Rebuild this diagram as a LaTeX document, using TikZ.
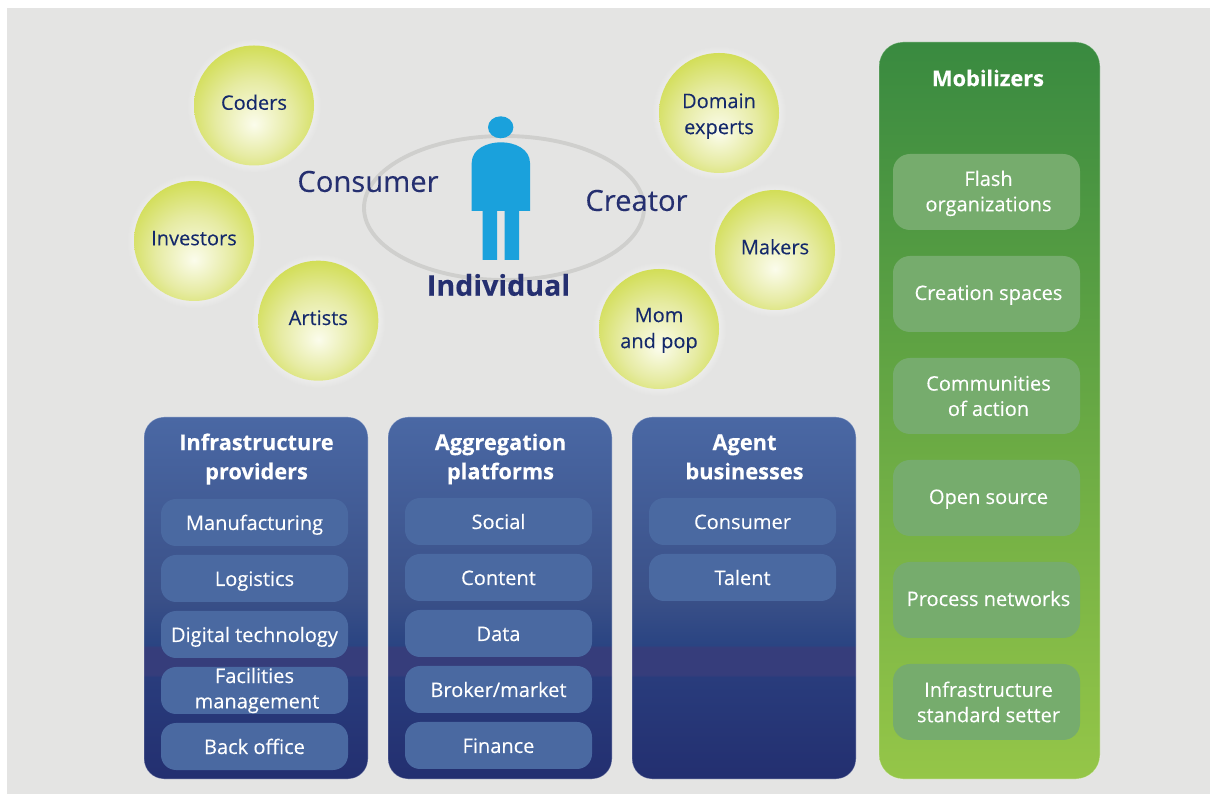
\documentclass[tikz,border=0pt]{standalone}
\usepackage{fontspec}
\setmainfont[FakeBold=0.15]{Open Sans}
\usepackage{xcolor}
\usetikzlibrary{positioning, shapes.geometric, shadows, fadings}
\definecolor{pagegray}{HTML}{E4E4E3}
\definecolor{ringgray}{HTML}{CFCFCD}
\definecolor{personblue}{HTML}{1AA1DC}
\definecolor{labelnavy}{HTML}{252F70}
\definecolor{bubblenavy}{HTML}{14296B}
\definecolor{pillblue}{HTML}{4A69A1}
\definecolor{pillgreen}{HTML}{76AC6D}
\definecolor{bluebottom}{HTML}{232F70}
\definecolor{bluelow}{HTML}{293C7C}
\definecolor{blueband}{HTML}{363D7B}
\definecolor{bluedeep}{HTML}{2A4482}
\definecolor{bluemid}{HTML}{3A5088}
\definecolor{bluetop}{HTML}{4A68A4}
\definecolor{greenbottom}{HTML}{95C648}
\definecolor{greentop}{HTML}{398A40}
\definecolor{bubblecore}{HTML}{FBFCEC}
\definecolor{bubblemid}{HTML}{E6EBA2}
\definecolor{bubbleedge}{HTML}{CEDB48}
\pgfdeclareverticalshading{panelblue}{100bp}{
    color(0bp)=(bluebottom); color(25bp)=(bluebottom);
    color(39.1bp)=(bluelow); color(39.4bp)=(blueband); color(43.2bp)=(blueband); color(43.5bp)=(bluedeep);
    color(50bp)=(bluemid); color(75bp)=(bluetop); color(100bp)=(bluetop)}
\pgfdeclareverticalshading{panelgreen}{100bp}{
    color(0bp)=(greenbottom); color(25bp)=(greenbottom);
    color(75bp)=(greentop); color(100bp)=(greentop)}
\pgfdeclareradialshading{bubbleshade}{\pgfpoint{0bp}{-8bp}}{
    color(0bp)=(bubblecore); color(16bp)=(bubblemid);
    color(31bp)=(bubbleedge); color(50bp)=(bubbleedge)}
\newcommand{\nudge}{\hspace*{0.04cm}}

\begin{document}
\begin{tikzpicture}[
    bubble/.style={
        circle,
        minimum size=1.2cm,
        inner sep=0pt,
        shading=bubbleshade,
        circular glow={fill=white, opacity=0.4, shadow scale=1.12},
        text=bubblenavy,
        align=center,
        font=\fontsize{5.7}{7.4}\selectfont
    },
    bubbleline/.style={text height=0.15cm, text depth=0.064cm},
    biglabel/.style={
        text=labelnavy,
        font=\fontsize{8.3}{10}\selectfont
    },
    panel/.style={
        rectangle,
        rounded corners=0.2cm,
        minimum width=2.24cm,
        minimum height=3.62cm,
        inner sep=0pt,
        draw=white,
        draw opacity=0.35,
        line width=0.25pt,
        shading=panelblue
    },
    paneltitle/.style={
        text=white,
        align=center,
        inner sep=0pt,
        font=\fontsize{6.2}{8.3}\selectfont\bfseries
    },
    pill/.style={
        rectangle,
        rounded corners=0.15cm,
        minimum width=1.87cm,
        minimum height=0.47cm,
        inner sep=0pt,
        outer sep=0pt,
        fill=pillblue,
        text=white,
        align=center,
        font=\fontsize{5.7}{7.2}\selectfont
    },
    pillline/.style={text height=0.15cm, text depth=0cm},
    greenpill/.style={
        pill,
        rounded corners=0.17cm,
        minimum height=0.76cm,
        fill=pillgreen
    },
    greenline/.style={text height=0.12cm, text depth=0cm}
]
\useasboundingbox (0,0) rectangle (12.10,7.94);

% Page
\fill[pagegray] (0.07,0) rectangle (12.10,7.86);

% Individual in the ring
\node[draw=ringgray, line width=1.1pt, ellipse, minimum width=2.8cm, minimum height=1.44cm, inner sep=0pt] (ring) at (5.04,5.86) {};
\fill[personblue] (5.007,6.667) ellipse (0.127cm and 0.11cm);
\fill[personblue] (4.717,5.83) -- (4.717,6.31) to[out=90, in=180] (5.01,6.517) to[out=0, in=90] (5.30,6.31) -- (5.30,5.83) -- (5.19,5.83) -- (5.19,5.34) -- (5.047,5.34) -- (5.047,5.83) -- (4.97,5.83) -- (4.97,5.34) -- (4.827,5.34) -- (4.827,5.83) -- cycle;
\node[biglabel] (consumer) at (3.68,6.125) {Consumer};
\node[biglabel] (creator) at (6.365,5.935) {Creator};
\node[biglabel, font=\fontsize{8.15}{10}\selectfont\bfseries] (individual) at (4.985,5.09) {Individual};

% Left bubbles
\node[bubble, bubbleline] (coders) at (2.54,6.885) {Coders};
\node[bubble, bubbleline] (investors) at (1.94,5.53) {Investors};
\node[bubble, bubbleline] (artists) at (3.183,4.733) {Artists};

% Right bubbles
\node[bubble] (domain) at (7.19,6.81) {\rule{0pt}{0.21cm}Domain\\experts};
\node[bubble, bubbleline] (makers) at (7.75,5.44) {Makers};
\node[bubble] (mompop) at (6.59,4.65) {\rule{0pt}{0.17cm}Mom\\and pop};

% Infrastructure providers
\node[panel] (infra) at (2.56,1.96) {};
\node[paneltitle] (infratitle) at (2.565,3.35) {Infrastructure\\providers};
\node[pill, pillline] (manufacturing) at (2.545,2.715) {Manufacturing};
\node[pill, pillline, below=0.09cm of manufacturing] (logistics) {Logistics};
\node[pill, pillline, below=0.09cm of logistics] (digital) {Digital technology};
\node[pill, below=0.09cm of digital, inner ysep=-0.03cm] (facilities) {Facilities\\\hspace*{0.05cm}management};
\node[pill, pillline, below=0.65cm of digital] (backoffice) {Back office};

% Aggregation platforms
\node[panel] (aggregation) at (5.00,1.96) {};
\node[paneltitle] (aggregationtitle) at (5.005,3.35) {Aggregation\\platforms};
\node[pill, pillline] (social) at (4.985,2.725) {Social};
\node[pill, pillline, below=0.09cm of social] (content) {Content};
\node[pill, pillline, below=0.09cm of content] (data) {Data};
\node[pill, pillline, below=0.09cm of data] (broker) {Broker/market};
\node[pill, pillline, below=0.09cm of broker] (finance) {Finance};

% Agent businesses
\node[panel] (agent) at (7.44,1.96) {};
\node[paneltitle] (agenttitle) at (7.445,3.37) {Agent\\businesses};
\node[pill, pillline] (consumerpill) at (7.425,2.725) {Consumer};
\node[pill, pillline, below=0.09cm of consumerpill] (talent) {Talent};

% Mobilizers
\node[panel, shading=panelgreen, rounded corners=0.24cm, minimum width=2.21cm, minimum height=7.37cm] (mobilizers) at (9.895,3.835) {};
\node[paneltitle] (mobilizerstitle) at (9.88,7.16) {Mobilizers};
\node[greenpill] (flash) at (9.865,6.02) {\rule{0pt}{0.18cm}\nudge Flash\\\nudge organizations};
\node[greenpill, greenline, below=0.26cm of flash] (creation) {\nudge Creation spaces};
\node[greenpill, below=0.26cm of creation] (communities) {\nudge Communities\\\nudge of action};
\node[greenpill, greenline, below=0.26cm of communities] (opensource) {\nudge Open source};
\node[greenpill, greenline, below=0.26cm of opensource] (process) {\nudge Process networks};
\node[greenpill, below=0.26cm of process] (standard) {\nudge Infrastructure\\\nudge standard setter};

\end{tikzpicture}
\end{document}
